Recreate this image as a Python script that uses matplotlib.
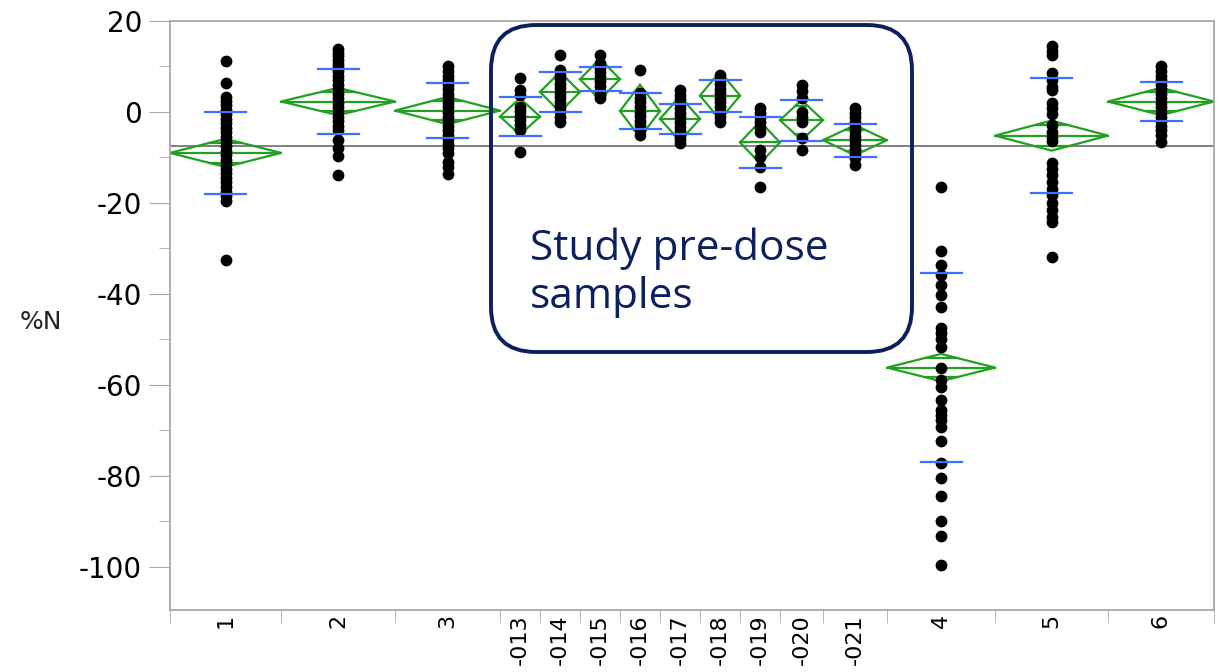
import numpy as np
import matplotlib.pyplot as plt
from matplotlib.patches import Polygon, FancyBboxPatch
from matplotlib.transforms import IdentityTransform

groups = ['1', '2', '3', '-013', '-014', '-015', '-016', '-017', '-018',
          '-019', '-020', '-021', '4', '5', '6']

g_1 = [11.3, 6.3, 3.4, 2.5, 1.5, 0.5, -0.5, -1.5, -2.5, -3.5, -4.5, -5.5, -6.5,
       -7.5, -8.5, -9.5, -10.5, -11.5, -12.5, -13.5, -14.5, -15.5, -16.5, -17.5,
       -18.5, -19.5, -32.5]
g_2 = [13.8, 13.0, 12.2, 11.4, 10.6, 9.8, 9.0, 8.0, 7.0, 6.0, 5.0, 4.0, 3.0, 2.0,
       1.0, 0.0, -1.0, -2.0, -3.0, -4.0, -6.2, -8.0, -9.7, -13.8]
g_3 = [10.0, 9.0, 8.0, 7.0, 6.0, 5.0, 4.0, 3.0, 2.0, 1.0, 0.0, -1.0, -2.0, -3.0,
       -4.0, -5.0, -6.0, -7.0, -8.0, -9.1, -10.9, -12.0, -13.6]
s_013 = [7.4, 4.8, 3.7, 1.2, 0.2, -0.8, -1.8, -2.8, -4.0, -8.7]
s_014 = [12.5, 9.2, 8.2, 7.2, 6.2, 5.2, 4.2, 3.2, 2.2, 1.2, 0.2, -1.0, -2.1]
s_015 = [12.5, 10.7, 9.7, 8.7, 7.7, 6.7, 5.7, 4.7, 3.7, 3.0]
s_016 = [9.2, 4.1, 3.1, 2.1, 1.1, 0.1, -0.9, -1.9, -2.9, -3.9, -5.1]
s_017 = [4.8, 3.8, 2.8, 1.8, 0.8, -0.2, -1.2, -2.2, -3.2, -4.2, -5.2, -6.0, -6.9]
s_018 = [8.1, 7.1, 6.1, 5.1, 4.1, 3.1, 2.1, 1.1, 0.1, -1.0, -2.1]
s_019 = [0.8, -0.2, -1.2, -2.2, -3.2, -4.3, -8.4, -9.8, -12.0, -16.4]
s_020 = [5.9, 4.5, 3.0, 0.1, -1.0, -2.1, -5.8, -8.4]
s_021 = [0.8, -0.2, -1.2, -2.2, -3.2, -4.2, -5.2, -6.2, -7.2, -8.2, -9.2, -10.2,
         -11.6]
g_4 = [-16.5, -30.5, -33.6, -35.8, -38.0, -40.2, -42.8, -47.5, -48.6, -50.0,
       -51.6, -56.3, -59.0, -60.4, -63.3, -65.5, -66.6, -67.8, -69.2, -72.4,
       -77.1, -80.4, -84.5, -90.0, -93.3, -99.6]
g_5 = [14.5, 13.3, 12.5, 8.5, 7.0, 5.5, 4.8, 1.9, 0.8, -0.5, -2.9, -4.5, -5.4,
       -6.3, -11.3, -12.5, -13.8, -15.5, -17.0, -18.2, -20.0, -21.5, -23.0,
       -24.1, -31.8]
g_6 = [10.0, 9.0, 8.0, 7.0, 6.0, 5.0, 4.0, 3.0, 2.0, 1.0, 0.0, -1.0, -2.0, -3.0,
       -4.0, -5.0, -6.5]

values = [g_1, g_2, g_3, s_013, s_014, s_015, s_016, s_017, s_018,
          s_019, s_020, s_021, g_4, g_5, g_6]

means = [-9.0, 2.3, 0.3, -1.0, 4.4, 7.2, 0.2, -1.5, 3.6, -6.7, -1.8, -6.2, -56.2, -5.2, 2.3]
ci_half = [3.1, 3.0, 3.0, 4.0, 4.4, 4.5, 5.8, 4.9, 5.3, 4.6, 4.4, 3.3, 3.0, 3.3, 3.0]
std_dev = [9.1, 7.2, 6.0, 4.2, 4.3, 2.6, 3.9, 3.3, 3.5, 5.7, 4.5, 3.6, 20.8, 12.6, 4.3]
grand_mean = -7.5

# column widths in JMP depend on group size
widths = np.array([111, 114, 105, 40, 40, 40, 40, 40, 40, 40, 43, 64, 108, 113, 106])
edges = np.concatenate([[0], np.cumsum(widths)])
centers = (edges[:-1] + edges[1:]) / 2

green = '#22a022'
blue = '#3f6fff'
navy = '#0c1f5f'
frame = '#a8a8a8'

plt.rcParams['axes.unicode_minus'] = False
fig = plt.figure(figsize=(12.25, 6.72), dpi=100)
ax = fig.add_axes([170/1225, 62/672, 1044/1225, 589/672])

ax.axhline(grand_mean, color='#7f7f7f', lw=1.4, zorder=1)

for i in range(len(groups)):
    left, right, c = edges[i], edges[i + 1], centers[i]
    m, h, sd = means[i], ci_half[i], std_dev[i]
    hw = (right - left) / 2
    ax.add_patch(Polygon([[left, m], [c, m + h], [right, m], [c, m - h]],
                         closed=True, fill=False, edgecolor=green, lw=1.6, zorder=2))
    ax.plot([left, right], [m, m], color=green, lw=1.6, zorder=2)
    k = 1 / np.sqrt(2)
    for off in (h * k, -h * k):
        ax.plot([c - hw * (1 - k), c + hw * (1 - k)], [m + off, m + off],
                color=green, lw=1.6, zorder=2)
    ax.scatter(np.full(len(values[i]), c), values[i], s=72, color='black',
               linewidths=0, zorder=3)
    for y in (m + sd, m - sd):
        ax.plot([c - 20.5, c + 20.5], [y, y], color=blue, lw=1.6, zorder=4)

ax.set_xlim(edges[0], edges[-1])
ax.set_ylim(-109.5, 20)

ax.set_xticks(centers, groups, rotation=90, va='top')
ax.set_xticks(edges, minor=True)
ax.tick_params(axis='x', which='major', length=0, pad=3, labelsize=16)
ax.tick_params(axis='x', which='minor', length=9, color=frame)
ax.set_yticks(np.arange(-100, 21, 20))
ax.set_yticks(np.arange(-90, 20, 20), minor=True)
ax.tick_params(axis='y', which='major', length=15, color=frame, labelsize=20, pad=5)
ax.tick_params(axis='y', which='minor', length=8, color=frame)
for sp in ax.spines.values():
    sp.set_color(frame)
    sp.set_linewidth(1.3)

fig.text(20/1225, 1 - 322/672, '%N', fontsize=18, va='center', ha='left', color='#222222')

box = FancyBboxPatch((491, 672 - 352), 421, 327, boxstyle='round,pad=0,rounding_size=45',
                     transform=IdentityTransform(), fill=False, edgecolor=navy, lw=2.8)
fig.add_artist(box)
fig.text(530/1225, 1 - 260/672, 'Study pre-dose', fontfamily='Open Sans', fontsize=30.5,
         color=navy, va='baseline', ha='left')
fig.text(530/1225, 1 - 308/672, 'samples', fontfamily='Open Sans', fontsize=30.5,
         color=navy, va='baseline', ha='left')

fig.savefig('out.png', dpi=100)
